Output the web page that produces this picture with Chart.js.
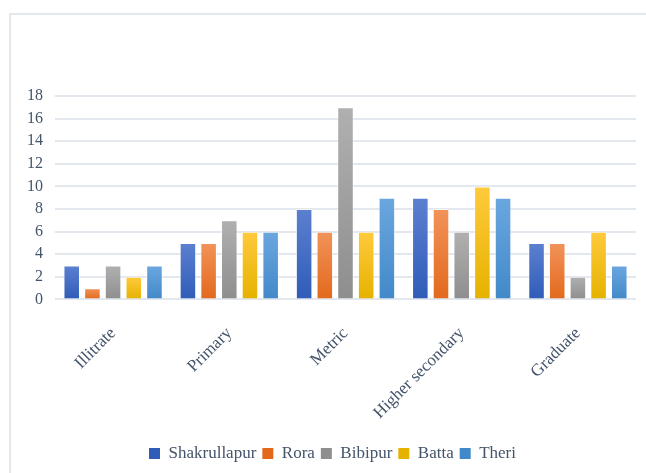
<!DOCTYPE html>
<html>
<head>
<meta charset="utf-8">
<script src="https://cdn.jsdelivr.net/npm/chart.js@4.4.1/dist/chart.umd.min.js"></script>
<style>
    html, body { margin: 0; padding: 0; background: #fff; overflow: hidden; }
    #wrap {
        position: absolute;
        left: 9px;
        top: 13px;
        width: 700px;
        height: 520px;
        border-left: 2px solid #e3e7ee;
        border-top: 2px solid #e3e7ee;
    }
    #chart { display: block; }
</style>
</head>
<body>
<div id="wrap"><canvas id="chart" width="650" height="470"></canvas></div>
<script>
const categories = ['Illitrate', 'Primary', 'Metric', 'Higher secondary', 'Graduate'];
const seriesNames = ['Shakrullapur', 'Rora', 'Bibipur', 'Batta', 'Theri'];
const shakrullapur = [3, 5, 8, 9, 5];
const rora = [1, 5, 6, 8, 5];
const bibipur = [3, 7, 17, 6, 2];
const batta = [2, 6, 6, 10, 6];
const theri = [3, 6, 9, 9, 3];
const yTicks = [0, 2, 4, 6, 8, 10, 12, 14, 16, 18];

// top / bottom colour of each bar gradient
const palette = [
    ['#5c80d0', '#2f5cb8'],
    ['#f2935a', '#e2691c'],
    ['#b0b0b0', '#8e8e8e'],
    ['#ffca3c', '#e5b200'],
    ['#6ba7df', '#4289c9']
];

function barGradient(i) {
    return function (ctx) {
        const chart = ctx.chart;
        if (!chart.chartArea || ctx.type !== 'data') {
            return palette[i][0];
        }
        const yScale = chart.scales.y;
        const top = yScale.getPixelForValue(ctx.parsed.y);
        const bottom = yScale.getPixelForValue(0);
        const g = chart.ctx.createLinearGradient(0, top, 0, bottom);
        g.addColorStop(0, palette[i][0]);
        g.addColorStop(1, palette[i][1]);
        return g;
    };
}

const values = [shakrullapur, rora, bibipur, batta, theri];
const textColor = '#44546a';
const font = 'Liberation Serif, "Times New Roman", serif';

// legend sits a bit right of the canvas centre in the original
const nudgeLegend = {
    id: 'nudgeLegend',
    afterLayout(chart) {
        chart.legend.left += 7;
        chart.legend.right += 7;
    }
};

new Chart(document.getElementById('chart'), {
    type: 'bar',
    data: {
        labels: categories,
        datasets: seriesNames.map((name, i) => ({
            label: name,
            data: values[i],
            backgroundColor: barGradient(i),
            borderColor: 'rgba(255,255,255,0.6)',
            borderWidth: 1,
            barPercentage: 0.8,
            categoryPercentage: 0.89
        }))
    },
    plugins: [nudgeLegend],
    options: {
        responsive: false,
        animation: false,
        layout: { padding: { top: 81, right: 25, left: 4, bottom: 13 } },
        plugins: {
            tooltip: { enabled: false },
            legend: {
                position: 'bottom',
                labels: {
                    color: textColor,
                    font: { family: font, size: 17 },
                    boxWidth: 11,
                    boxHeight: 11,
                    padding: 6,
                    generateLabels: function (chart) {
                        return chart.data.datasets.map((ds, i) => ({
                            text: ds.label,
                            fillStyle: palette[i][1],
                            strokeStyle: palette[i][1],
                            lineWidth: 0,
                            fontColor: textColor,
                            datasetIndex: i
                        }));
                    }
                }
            }
        },
        scales: {
            x: {
                grid: { display: false },
                border: { display: false },
                ticks: {
                    color: textColor,
                    font: { family: font, size: 17 },
                    minRotation: 45,
                    maxRotation: 45,
                    padding: 16
                }
            },
            y: {
                min: 0,
                max: 18,
                afterBuildTicks: axis => { axis.ticks = yTicks.map(v => ({ value: v })); },
                grid: { color: '#e3e7ee', lineWidth: 2, drawTicks: false },
                border: { display: false },
                ticks: {
                    color: textColor,
                    font: { family: font, size: 16 },
                    padding: 12,
                    autoSkip: false
                }
            }
        }
    }
});
</script>
</body>
</html>
